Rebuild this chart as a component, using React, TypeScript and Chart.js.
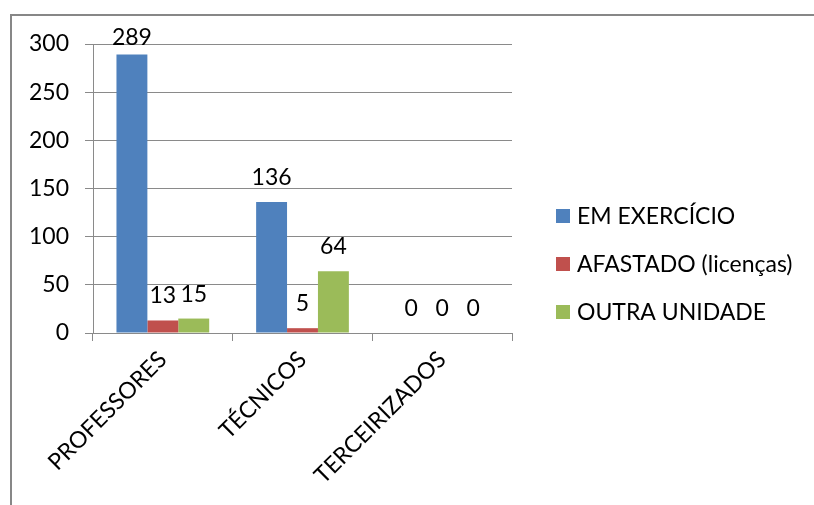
import React, { useEffect, useRef } from "react";
import { Chart, registerables } from "chart.js";

Chart.register(...registerables);

const categories = ["PROFESSORES", "TÉCNICOS", "TERCEIRIZADOS"];
const seriesNames = ["EM EXERCÍCIO", "AFASTADO (licenças)", "OUTRA UNIDADE"];
const emExercicio = [289, 136, 0];
const afastado = [13, 5, 0];
const outraUnidade = [15, 64, 0];
const yTicksMax = 300;
const yTickStep = 50;

const colors = ["#4F81BD", "#C0504D", "#9BBB59"];
const FONT = "Lato, 'Open Sans', sans-serif";
const FSIZE = 23;
const GRID = "#8a8a8a";

const extras = {
  id: "extras",
  afterDraw(chart: any) {
    const ctx = chart.ctx;
    ctx.save();
    // outer frame
    ctx.strokeStyle = "#878787";
    ctx.lineWidth = 2;
    ctx.beginPath();
    ctx.moveTo(11, 505);
    ctx.lineTo(11, 15);
    ctx.lineTo(814, 15);
    ctx.stroke();
    // data labels
    ctx.fillStyle = "#000";
    ctx.font = `${FSIZE}px ${FONT}`;
    ctx.textAlign = "center";
    ctx.textBaseline = "alphabetic";
    chart.data.datasets.forEach((ds: any, i: number) => {
      const meta = chart.getDatasetMeta(i);
      meta.data.forEach((bar: any, j: number) => {
        let base = bar.y - 17;
        if (base < 45) base = 45;
        ctx.fillText(String(ds.data[j]), bar.x, base);
      });
    });
    // legend
    ctx.textAlign = "left";
    ctx.textBaseline = "middle";
    seriesNames.forEach((name, i) => {
      const cy = 216 + i * 48;
      ctx.fillStyle = colors[i];
      ctx.fillRect(556, cy - 7, 14, 14);
      ctx.fillStyle = "#000";
      ctx.fillText(name, 577, cy + 1);
    });
    ctx.restore();
  },
};

export default function App() {
  const ref = useRef<HTMLCanvasElement>(null);
  useEffect(() => {
    const chart = new Chart(ref.current!, {
      type: "bar",
      data: {
        labels: categories,
        datasets: [
          { label: seriesNames[0], data: emExercicio, backgroundColor: colors[0] },
          { label: seriesNames[1], data: afastado, backgroundColor: colors[1] },
          { label: seriesNames[2], data: outraUnidade, backgroundColor: colors[2] },
        ],
      },
      options: {
        responsive: false,
        animation: false,
        devicePixelRatio: 1,
        layout: { padding: { top: 44, right: 302, bottom: 0, left: 0 } },
        plugins: { legend: { display: false }, tooltip: { enabled: false } },
        datasets: { bar: { categoryPercentage: 0.664, barPercentage: 1 } },
        scales: {
          x: {
            grid: { offset: true, drawOnChartArea: false, drawTicks: true, tickLength: 8, color: GRID },
            border: { color: GRID, width: 1 },
            ticks: {
              color: "#000",
              font: { family: FONT, size: FSIZE },
              minRotation: 45,
              maxRotation: 45,
              padding: 5,
            },
            afterFit: (s: any) => {
              s.height = 505 - 333;
            },
          },
          y: {
            min: 0,
            max: yTicksMax,
            ticks: {
              stepSize: yTickStep,
              color: "#000",
              font: { family: FONT, size: FSIZE },
              padding: 16,
            },
            grid: { color: GRID, tickLength: 8 },
            border: { color: GRID, width: 1 },
            afterFit: (s: any) => {
              s.width = 93;
            },
          },
        },
      },
      plugins: [extras],
    });
    return () => chart.destroy();
  }, []);
  return (
    <div style={{ position: "absolute", left: 0, top: 0, width: 814, height: 505, background: "#fff" }}>
      <canvas ref={ref} width={814} height={505} />
    </div>
  );
}
